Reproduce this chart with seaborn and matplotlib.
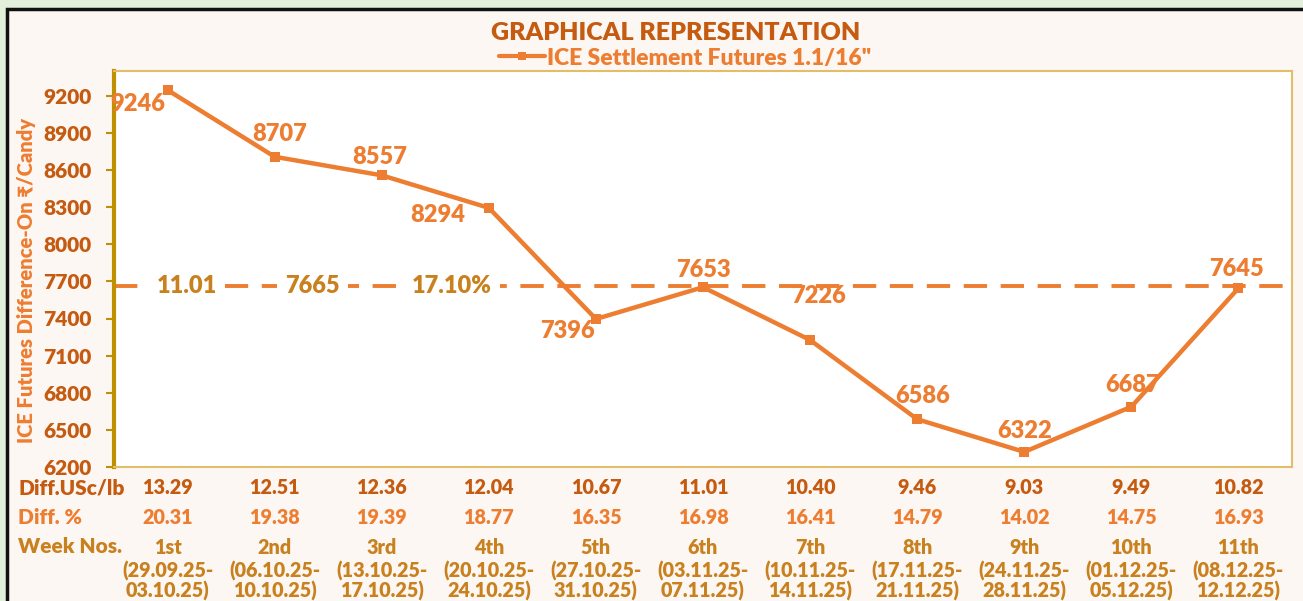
import matplotlib
matplotlib.use("Agg")
import matplotlib.pyplot as plt
import matplotlib.patches as mpatches
from matplotlib.lines import Line2D
from matplotlib.transforms import blended_transform_factory
import pandas as pd
import seaborn as sns

# Chart data
weeks = ["1st", "2nd", "3rd", "4th", "5th", "6th", "7th", "8th", "9th", "10th", "11th"]
date_ranges = [
    ("(29.09.25-", "03.10.25)"), ("(06.10.25-", "10.10.25)"), ("(13.10.25-", "17.10.25)"),
    ("(20.10.25-", "24.10.25)"), ("(27.10.25-", "31.10.25)"), ("(03.11.25-", "07.11.25)"),
    ("(10.11.25-", "14.11.25)"), ("(17.11.25-", "21.11.25)"), ("(24.11.25-", "28.11.25)"),
    ("(01.12.25-", "05.12.25)"), ("(08.12.25-", "12.12.25)"),
]
futures = [9246, 8707, 8557, 8294, 7396, 7653, 7226, 6586, 6322, 6687, 7645]
diff_usc = ["13.29", "12.51", "12.36", "12.04", "10.67", "11.01", "10.40", "9.46", "9.03", "9.49", "10.82"]
diff_pct = ["20.31", "19.38", "19.39", "18.77", "16.35", "16.98", "16.41", "14.79", "14.02", "14.75", "16.93"]
avg_value = 7665
avg_usc = "11.01"
avg_pct = "17.10%"
y_ticks = list(range(6200, 9201, 300))

# label offsets (pixels) for each data label
label_offsets = [(-30, -14), (5, 23), (-2, 18), (-51, -7), (-28, -12), (0, 17),
                 (8, 44), (5, 23), (0, 21), (1, 22), (-2, 19)]

ORANGE = "#ED7D31"
DARK = "#C55A11"
GOLD = "#C8811E"
W = "heavy"

sns.set_theme(style="white")
plt.rcParams["font.family"] = ["Lato", "DejaVu Sans"]

df = pd.DataFrame({"pos": range(len(weeks)), "value": futures})

fig = plt.figure(figsize=(13.03, 6.01), dpi=100)
fig.patch.set_facecolor("#E2EFDA")
# cream panel with black frame
fig.patches.append(mpatches.Rectangle((7 / 1303, -0.05), 1.1, 1 - 9 / 601 + 0.05,
                                      transform=fig.transFigure, facecolor="#FCF7F3",
                                      edgecolor="#111111", linewidth=2.5, zorder=-5))

ax = fig.add_axes([114 / 1303, 1 - 467 / 601, (1292 - 114) / 1303, (467 - 71) / 601])
ax.set_facecolor("white")
ax.set_zorder(2)

sns.lineplot(data=df, x="pos", y="value", marker="s", markersize=6.5, markeredgewidth=0,
             color=ORANGE, linewidth=3.2, ax=ax, zorder=3)

ax.set_xlim(-0.5, len(weeks) - 0.5)
ax.set_ylim(6200, 9400)
ax.set_yticks(y_ticks)
ax.set_xticks([])
ax.set_xlabel("")
ax.set_ylabel("ICE Futures Difference-On ₹/Candy", color=ORANGE, fontsize=14.5,
              fontweight=W)
ax.yaxis.set_label_coords(-0.066, 0.47)
ax.tick_params(axis="y", colors="#BF9000", labelcolor=DARK, labelsize=15,
               length=6, width=1.5, direction="out", left=True, pad=10)
for lbl in ax.get_yticklabels():
    lbl.set_fontweight(W)

for side in ["top", "right", "bottom"]:
    ax.spines[side].set_color("#E2BE6A")
    ax.spines[side].set_linewidth(1.5)
ax.spines["left"].set_color("#BF9000")
ax.spines["left"].set_linewidth(3)

# data labels
for i, v in enumerate(futures):
    dx, dy = label_offsets[i]
    ax.annotate(str(v), (i, v), xytext=(dx, dy), textcoords="offset pixels",
                ha="center", va="center", color=ORANGE, fontsize=17, fontweight=W,
                zorder=4)

# average line with labels
ax.axhline(avg_value, color=ORANGE, linewidth=2.8, dashes=(6, 3.5), zorder=2)
for xpos, txt in [(0.18, avg_usc), (1.35, str(avg_value)), (2.65, avg_pct)]:
    ax.text(xpos, avg_value, txt, ha="center", va="center", color=GOLD, fontsize=17,
            fontweight=W, zorder=3,
            bbox=dict(facecolor="white", edgecolor="none", pad=6))

# title and legend
fig.text(676 / 1303, 1 - 33 / 601, "GRAPHICAL REPRESENTATION", ha="center", va="center",
         color=DARK, fontsize=18, fontweight=W)
handle = Line2D([], [], color=ORANGE, linewidth=3, marker="s", markersize=6,
                markeredgewidth=0)
fig.legend([handle], ['ICE Settlement Futures 1.1/16"'], loc="center",
           bbox_to_anchor=(685 / 1303, 1 - 58 / 601), frameon=False, handlelength=2.0,
           handletextpad=0.1, prop={"size": 16.5, "weight": W}, labelcolor=ORANGE)

# table under the chart
tr = blended_transform_factory(ax.transData, fig.transFigure)
rows_y = [1 - 488 / 601, 1 - 518 / 601, 1 - 548 / 601]
fig.text(18 / 1303, rows_y[0], "Diff.USc/lb", color=DARK, fontsize=15, fontweight=W, va="center")
fig.text(18 / 1303, rows_y[1], "Diff. %", color=ORANGE, fontsize=15, fontweight=W, va="center")
fig.text(18 / 1303, rows_y[2] + 0.003, "Week Nos.", color=GOLD, fontsize=15, fontweight=W, va="center")
for i in range(len(weeks)):
    ax.text(i, rows_y[0], diff_usc[i], transform=tr, ha="center", va="center",
            color=DARK, fontsize=14.2, fontweight=W, clip_on=False)
    ax.text(i, rows_y[1], diff_pct[i], transform=tr, ha="center", va="center",
            color=ORANGE, fontsize=14.2, fontweight=W, clip_on=False)
    ax.text(i, rows_y[2], weeks[i], transform=tr, ha="center", va="center",
            color=GOLD, fontsize=14.2, fontweight=W, clip_on=False)
    ax.text(i, 1 - 571 / 601, date_ranges[i][0], transform=tr, ha="center", va="center",
            color=GOLD, fontsize=14.2, fontweight=W, clip_on=False)
    ax.text(i, 1 - 591 / 601, date_ranges[i][1], transform=tr, ha="center", va="center",
            color=GOLD, fontsize=14.2, fontweight=W, clip_on=False)

fig.savefig("out.png", dpi=100, facecolor=fig.get_facecolor())
